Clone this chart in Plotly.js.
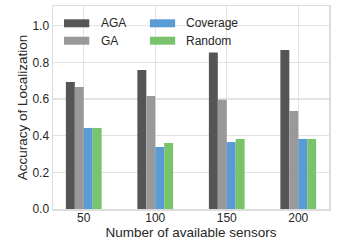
<!DOCTYPE html>
<html>
<head>
<meta charset="utf-8">
<script src="https://cdn.plot.ly/plotly-3.0.1.min.js"></script>
<style>html,body{margin:0;padding:0;background:#fff;}#chart{width:337px;height:247px;}</style>
</head>
<body>
<div id="chart"></div>
<script>
var categories = ["50", "100", "150", "200"];
var seriesNames = ["AGA", "GA", "Coverage", "Random"];
var aga = [0.693, 0.758, 0.853, 0.867];
var ga = [0.665, 0.616, 0.596, 0.535];
var coverage = [0.442, 0.338, 0.365, 0.382];
var random = [0.442, 0.360, 0.382, 0.382];
var yTicks = [0.0, 0.2, 0.4, 0.6, 0.8, 1.0];
var yTickText = ["0.0", "0.2", "0.4", "0.6", "0.8", "1.0"];

var colors = ["#555555", "#999999", "#5b9bd5", "#77c46b"];
var values = [aga, ga, coverage, random];

var traces = values.map(function (v, i) {
  return {
    type: "bar",
    name: seriesNames[i],
    x: categories,
    y: v,
    marker: { color: colors[i], line: { width: 0 } },
    showlegend: false,
    hoverinfo: "none"
  };
});

var fontFam = "Liberation Sans, Arial, sans-serif";
var L = 53, R = 329.3, T = 6, B = 209;
function px(x) { return (x - L) / (R - L); }
function py(y) { return (B - y) / (B - T); }

var legendPatches = [
  { x0: 64, x1: 89.3, y0: 19.3, y1: 27.3, c: colors[0], label: seriesNames[0], tx: 99.3, ty: 23.3 },
  { x0: 64, x1: 89.3, y0: 36.7, y1: 44.7, c: colors[1], label: seriesNames[1], tx: 99.3, ty: 40.7 },
  { x0: 150, x1: 175.3, y0: 19.3, y1: 27.3, c: colors[2], label: seriesNames[2], tx: 184.3, ty: 23.3 },
  { x0: 150, x1: 175.3, y0: 36.7, y1: 44.7, c: colors[3], label: seriesNames[3], tx: 184.3, ty: 40.7 }
];

var shapes = legendPatches.map(function (p) {
  return { type: "rect", xref: "paper", yref: "paper", x0: px(p.x0), x1: px(p.x1), y0: py(p.y1), y1: py(p.y0), fillcolor: p.c, line: { width: 0 } };
});
var annotations = legendPatches.map(function (p) {
  return { xref: "paper", yref: "paper", x: px(p.tx), y: py(p.ty), xanchor: "left", yanchor: "middle", text: p.label, showarrow: false, font: { family: fontFam, size: 12, color: "#262626" } };
});

var layout = {
  width: 337, height: 247,
  margin: { l: L, r: 337 - R, t: T, b: 247 - B, pad: 0 },
  paper_bgcolor: "#ffffff",
  plot_bgcolor: "#ffffff",
  barmode: "group",
  bargap: 0.5,
  bargroupgap: 0,
  font: { family: fontFam, size: 12, color: "#262626" },
  xaxis: {
    type: "category",
    range: [-0.43, 3.43],
    showgrid: true, gridcolor: "#e3e3e3", gridwidth: 1.2,
    showline: true, linecolor: "#dcdcdc", linewidth: 1.5, mirror: true,
    ticks: "", zeroline: false, automargin: false,
    ticklabelstandoff: -3,
    tickfont: { family: fontFam, size: 12, color: "#262626" },
    title: { text: "Number of available sensors", font: { family: fontFam, size: 13.5, color: "#262626" }, standoff: 0 }
  },
  yaxis: {
    range: [0, 1.107],
    tickvals: yTicks, ticktext: yTickText,
    showgrid: true, gridcolor: "#e3e3e3", gridwidth: 1.2,
    showline: true, linecolor: "#dcdcdc", linewidth: 1.5, mirror: true,
    ticks: "", zeroline: false, automargin: false,
    tickfont: { family: fontFam, size: 12, color: "#262626" },
    title: { text: "Accuracy of Localization", font: { family: fontFam, size: 13.5, color: "#262626" }, standoff: 1 }
  },
  shapes: shapes,
  annotations: annotations
};

Plotly.newPlot("chart", traces, layout, { staticPlot: true, displayModeBar: false });
</script>
</body>
</html>
